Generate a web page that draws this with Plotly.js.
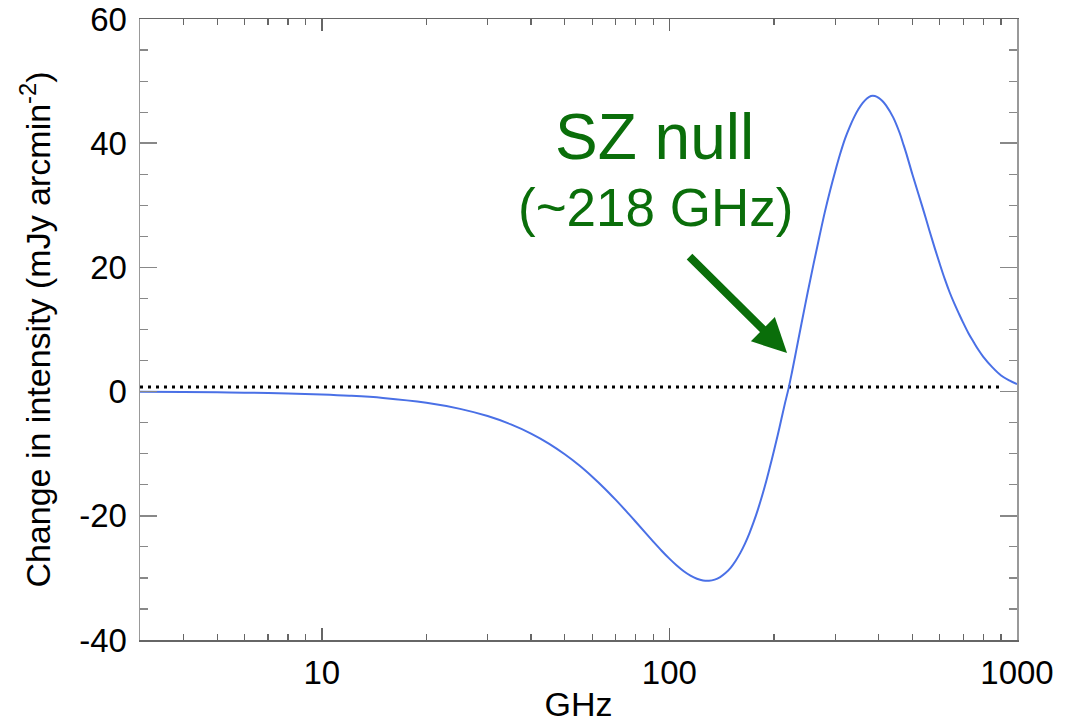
<!DOCTYPE html>
<html>
<head>
<meta charset="utf-8">
<script src="https://cdn.plot.ly/plotly-3.0.1.min.js"></script>
<style>html,body{margin:0;padding:0;background:#fff;}#chart{width:1079px;height:723px;}</style>
</head>
<body>
<div id="chart"></div>
<script>
// Frequency (GHz)
const freqGHz = [3, 4, 5, 6, 8, 10, 12, 15, 20, 25, 30, 35, 40, 45, 50, 55, 60, 65, 70, 75, 80, 85, 90, 95,
  100, 105, 110, 115, 120, 125, 130, 135, 140, 145, 150, 155, 160, 165, 170, 175, 180, 185, 190, 195,
  200, 205, 210, 215, 220, 225, 230, 235, 240, 250, 260, 270, 280, 290, 300, 310, 320, 330, 340, 350,
  360, 370, 380, 390, 400, 410, 420, 440, 460, 470, 480, 500, 520, 540, 560, 580, 600, 620, 640, 660,
  680, 700, 725, 750, 775, 800, 850, 900, 950, 1000];
// Change in intensity (mJy arcmin^-2)
const deltaI = [-0.04, -0.07, -0.12, -0.17, -0.29, -0.46, -0.66, -1.02, -1.80, -2.78, -3.94, -5.28, -6.76, -8.37, -10.09, -11.86, -13.70, -15.55, -17.40, -19.21, -20.96, -22.64, -24.19, -25.62,
  -26.90, -28.00, -28.92, -29.63, -30.13, -30.41, -30.46, -30.28, -29.87, -29.23, -28.38, -27.27, -25.97, -24.48, -22.78, -20.91, -18.88, -16.69, -14.39, -11.94,
  -9.50, -7.00, -4.40, -1.90, 0.40, 3.00, 5.70, 8.40, 11.0, 16.0, 20.6, 24.9, 28.9, 32.4, 35.5, 38.3, 40.7, 42.6, 44.2, 45.5,
  46.5, 47.2, 47.6, 47.6, 47.3, 46.8, 46.1, 44.2, 41.6, 40.0, 38.4, 35.0, 31.9, 28.9, 25.9, 23.1, 20.5, 18.1, 16.0, 14.2,
  12.6, 11.1, 9.4, 8.0, 6.7, 5.6, 3.9, 2.6, 1.8, 1.2];
// Dotted reference line
const refX = [3, 910];
const refY = [0.75, 0.75];
// Axis ticks
const xTickVals = [10, 100, 1000];
const xTickText = ['10', '100', '1000'];
const xMinorVals = [4, 5, 6, 7, 8, 9, 20, 30, 40, 50, 60, 70, 80, 90, 200, 300, 400, 500, 600, 700, 800, 900];
const yTickVals = [-40, -20, 0, 20, 40, 60];
const yTickText = ['-40', '-20', '0', '20', '40', '60'];
// Annotation
const nullLabel = 'SZ null';
const nullFreqLabel = '(~218 GHz)';
const arrowTip = {x: 218, y: 6.2};

const FONT = 'Liberation Sans, Arial, Helvetica, sans-serif';
const GREEN = '#0a6e0a';

const traces = [
  {x: refX, y: refY, mode: 'lines', line: {color: '#000', width: 3, dash: '3px,5px'}, hoverinfo: 'skip', showlegend: false},
  {x: freqGHz, y: deltaI, mode: 'lines', line: {color: '#4a70e6', width: 2, shape: 'spline', smoothing: 1}, showlegend: false}
];

const layout = {
  width: 1079, height: 723,
  margin: {l: 140, r: 62, t: 19, b: 83},
  paper_bgcolor: '#fff', plot_bgcolor: '#fff',
  font: {family: FONT, color: '#000', size: 33},
  showlegend: false,
  xaxis: {
    type: 'log', range: [Math.log10(3), 3],
    tickmode: 'array', tickvals: xTickVals, ticktext: xTickText,
    ticks: 'inside', ticklen: 12, tickwidth: 1.5, tickcolor: '#666',
    minor: {tickmode: 'array', tickvals: xMinorVals, ticks: 'inside', ticklen: 6, tickwidth: 1.2, tickcolor: '#666', showgrid: false},
    showline: true, linecolor: '#666', linewidth: 1.5, mirror: 'ticks',
    showgrid: false, zeroline: false,
    tickfont: {size: 33, family: FONT}, ticklabelstandoff: 3,
    title: {text: 'GHz', font: {size: 34, family: FONT}, standoff: 16}
  },
  yaxis: {
    range: [-40, 60],
    tickmode: 'array', tickvals: yTickVals, ticktext: yTickText,
    ticks: 'inside', ticklen: 17, tickwidth: 1.5, tickcolor: '#888',
    minor: {dtick: 5, ticks: 'inside', ticklen: 8, tickwidth: 1.2, tickcolor: '#888', showgrid: false},
    showline: true, linecolor: '#999', linewidth: 1.5, mirror: 'ticks',
    showgrid: false, zeroline: false,
    tickfont: {size: 33, family: FONT}, ticklabelstandoff: 5,
    title: {text: 'Change in intensity (mJy arcmin<sup>-2</sup>)', font: {size: 34, family: FONT}, standoff: 18}
  },
  annotations: [
    {xref: 'paper', yref: 'paper', x: 0.587, y: 0.810, xanchor: 'center', yanchor: 'middle',
     text: nullLabel, showarrow: false, font: {size: 64, color: GREEN, family: FONT}},
    {xref: 'paper', yref: 'paper', x: 0.588, y: 0.696, xanchor: 'center', yanchor: 'middle',
     text: nullFreqLabel, showarrow: false, font: {size: 53, color: GREEN, family: FONT}},
    {xref: 'x', yref: 'y', x: Math.log10(arrowTip.x), y: arrowTip.y, text: '', showarrow: true,
     arrowhead: 2, arrowsize: 0.85, arrowwidth: 8, arrowcolor: GREEN, ax: -99, ay: -98, standoff: 0}
  ]
};

Plotly.newPlot('chart', traces, layout, {staticPlot: true, displayModeBar: false});
</script>
</body>
</html>
